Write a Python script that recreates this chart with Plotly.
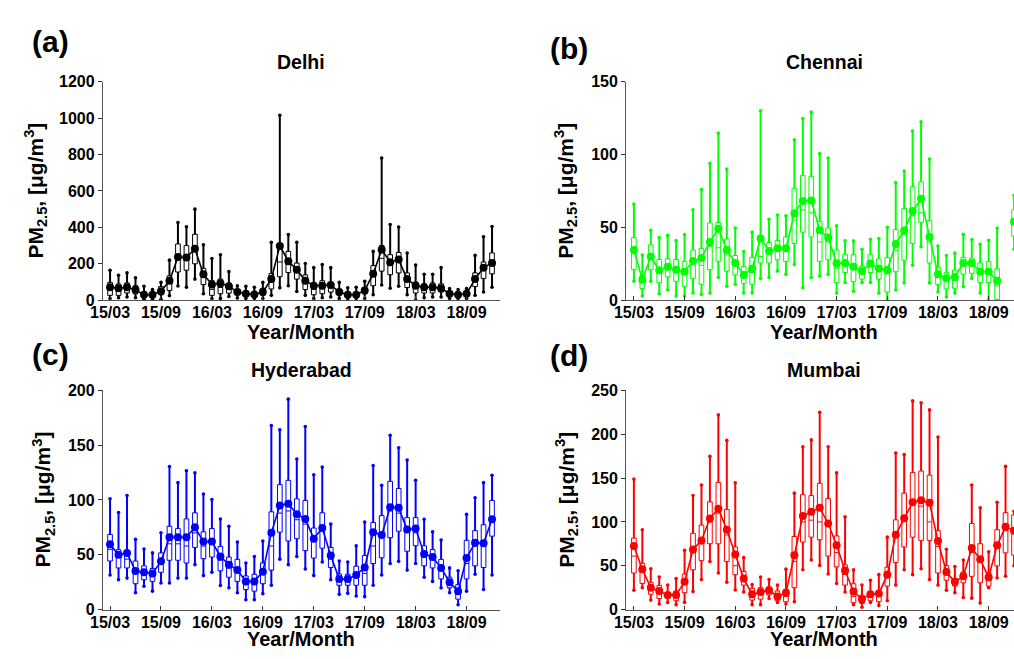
import plotly.graph_objects as go

W, H = 1014, 659
months = [f"{y:02d}/{m:02d}" for y in range(15, 19) for m in range(1, 13)][2:]  # 15/03 .. 18/12
idx = list(range(len(months)))
tick_vals = list(range(0, 46, 6))
tick_text = [months[i] for i in tick_vals]

# ---------------- Delhi ----------------
delhi_mean = [71,66,71,57,30,30,50,107,237,235,282,143,86,93,77,45,36,32,45,116,298,214,168,107,80,80,84,45,30,30,54,146,277,209,223,116,80,71,71,66,36,30,36,116,179,205]
delhi_high = [164,137,150,123,77,59,98,220,427,403,500,304,229,250,157,80,77,71,98,318,1015,361,318,202,179,196,179,98,68,71,104,268,780,416,402,259,193,143,143,179,64,59,64,246,348,405]
delhi_low = [9,14,18,14,5,5,5,25,78,71,116,36,9,9,21,12,10,10,10,27,68,80,48,27,9,14,18,10,8,10,10,30,84,66,77,30,0,14,18,18,10,10,10,27,45,71]
delhi_q3 = [98,89,95,80,40,40,75,134,309,300,362,175,107,116,93,60,45,40,65,146,286,268,204,139,93,107,98,60,40,40,70,190,300,250,262,150,100,90,95,90,45,40,45,150,210,260]
delhi_q1 = [27,27,40,35,20,20,30,54,155,165,200,86,27,36,39,30,25,22,28,62,129,152,116,59,30,36,45,28,20,22,35,80,160,140,150,70,40,40,40,45,25,22,25,75,120,145]
delhi_med = [55,55,60,50,28,28,45,95,230,225,270,130,60,70,65,42,34,30,42,100,210,210,160,95,60,65,70,42,28,30,50,135,230,190,210,105,65,62,65,62,33,30,33,110,165,200]

# ---------------- Chennai (18/11 missing) ----------------
chennai_mean = [34.5,14,30,20.5,23,21,19.6,27,29,40,49,34.5,25.6,17.4,21.6,42.3,33.8,35.6,35.6,59.6,68,68.5,48,43,25.4,25.6,22.9,20,25.2,21.8,20.7,38.5,47.9,61.2,69.7,43.4,17.8,15.1,16,25.6,25.6,19.6,19.6,13.4,None,53.9]
chennai_high = [66,31,48,43,44.5,41,45,62,76,94,114.6,90,49.6,33.4,46.7,130,55.6,58.5,58,110,124.6,129,100.6,97.5,51,40.7,40.7,35,41.8,42.3,50,80.8,88.6,116,122.4,96.8,37.2,30.7,32.3,45.2,41.6,38.3,41.2,49.6,None,72]
chennai_low = [13,3,13,4.5,7,3,3,5,4,5,15.6,9.6,11,5,5,15,15.6,20,17.8,24.5,8.5,15.6,16.7,17.8,4.9,12.2,6.2,12.2,12.2,4.9,0,7,11.8,24,36.7,11.8,5.6,2.2,4.9,9.3,14.9,4.9,0,0,None,35]
chennai_q3 = [43,17,38,28,28.5,28,26.7,34.5,35.6,53,53.4,42,30.7,23,29.4,44.5,39.6,41,43.4,76.8,85.7,85,53.9,49.6,34.5,31.6,31.2,23.4,31.2,28.3,29.4,48.5,63,77.9,81.2,54.5,22.7,18.9,20.7,29.4,28.9,25.6,26.7,21.6,None,62]
chennai_q1 = [21,8,21,12,16,13,9.6,15,11,21,26.7,20,17.4,11.6,11,25.6,25.6,27.8,26.7,39,46.7,43.4,26.7,27.8,12,19,12.9,14.5,19,14.5,5.6,19.6,27.4,39,53.4,25.6,10.7,7.8,8.2,17.8,18.5,12.2,12.2,0,None,44]
chennai_med = [32,13,28,19,22,20,18,25,24,37,36,31,24,16,19,30,32,34,35,55,62,60,40,40,22,24,22,19,24,20,18,34,45,58,60,40,16,13,14,24,24,18,18,10,None,52]

# ---------------- Hyderabad ----------------
hyd_mean = [59.7,50,51.7,35.2,34,33,44,66,66,66,75,62,62,48.4,41,36,25.7,25.7,34.6,70,95,96.6,87,82.7,64.7,74.4,49.3,27.8,27.8,31.6,38.4,70.6,68,93.4,92.8,73,73.9,50.8,47.9,38,25,16.8,47,61,60.6,82.4]
hyd_high = [101,88.6,104,64,55.2,51.7,70,130.6,115.8,126.7,124.7,105.5,100.4,82.7,76,61.7,42.5,48.4,62.6,168,164,192,137.4,167,123,130,78,44.3,43.4,58.2,79.8,131.5,113.4,159,147.7,136.5,118,82.4,70.9,63.5,38,35.4,86.9,102,115.8,122.6]
hyd_low = [31.6,27.2,28.7,15.4,21.3,16.8,24.2,24.2,28.7,28.7,41,31,34,21.9,19.8,15.4,8.9,8.9,14.5,22.2,46,41,48.4,37,31,43.4,27.2,13.9,14.8,12.4,11.8,22.2,31.6,42,44,36,42,29.5,25.7,19.8,15.4,4.4,16.8,32.2,18.3,31.6]
hyd_q3 = [68.5,54.7,53.8,44.3,39.9,37.5,51.7,76,73.9,82.7,88.3,70.9,73.9,57.6,47.9,45.8,30.7,32.2,42.5,89.2,114,117.9,101,99.6,74.4,88.3,56.7,32.5,32.2,39.6,49.3,79.5,85.7,117,110.5,83.9,83.9,58.2,54.7,45.8,29.5,22.7,63.2,72,77.4,99.6]
hyd_q1 = [44.3,38,38,23.6,27.2,25.7,34,45,45,42.5,56.7,46.4,47.9,35.4,29.5,25.7,18.3,16.8,23.6,36,70.6,62.6,64.7,53.8,47,56,38.4,22.2,22.2,22.2,22.2,42,47.3,65.6,71.5,53.2,58.2,39.9,38,28,19.8,9.5,28,39.9,38.4,67]
hyd_med = [55,48,46,33,33,31,42,60,60,58,70,58,60,45,38,34,24,24,33,58,88,90,82,78,62,72,46,27,27,30,33,58,68,90,88,72,70,48,46,36,25,15,42,58,58,82]

# ---------------- Mumbai ----------------
mum_mean = [72.5,46,25,21.2,16.7,16.7,31.6,68.5,78.9,103.8,115,91,62.9,35.3,17.5,20.1,22,14.9,19.3,62,106.8,111.6,116,98.2,73.3,44.6,20.5,11.9,17.5,18.2,39.8,85.2,104.2,122.4,124.6,121.7,78.1,42.8,31.6,37.9,70.3,57.3,36.8,73.3,94.5,90]
mum_high = [148.8,91,46.5,37.2,27.9,35.3,67.7,130,142,174.9,222,193,144.7,59.2,28.6,37.2,34.2,27.9,46.1,132.8,185.6,193.5,225,185.6,155.9,105.7,45.4,27.9,33.5,39.8,82.6,178.6,176.7,238,235.9,227.7,196.8,68.8,49.1,56.5,142,116,65.8,122.4,163.3,112]
mum_low = [22,25,10.8,6.3,8.2,5.6,8.2,20.5,34.2,54.7,41.7,31.2,22.3,20.1,5.6,5.6,12.6,8.2,6.3,8.9,45.4,56.5,50.2,40.5,29.8,20.1,5.6,2.6,8.2,4.5,10,27.9,45.4,39.8,46.5,34.2,27.9,22,19.3,13.8,13,7.4,25,36,38,50]
mum_q3 = [81.5,52.8,31.2,27.5,19.3,21.2,40.5,87,96.4,122.8,145,114.2,71.4,43.5,24.2,25,25.7,21.2,23,83.3,131,130,144,126.5,84,51,29.4,16.4,20.5,21.2,48.4,102.3,132.8,156.2,158,153.3,90,50.2,35.3,42.8,98.2,75.1,42.4,91.1,110.5,108]
mum_q1 = [41.7,29.8,17.5,12.6,13,10,19.3,45.4,55.8,75.1,75,54.7,39.8,27.9,10.8,11.9,16.7,10,8.9,25,77,82.6,79.6,61,48.7,27.9,7.8,7,10,8.9,26.8,53.6,71.4,82.6,78.9,78.9,41.7,33.5,26.8,30.5,37.9,30.5,26.8,49.8,64.7,62]
mum_med = [61,44,23,19,16,15,29,65,75,100,110,85,50,33,16,18,21,14,15,55,100,102,100,95,65,40,15,11,17,16,38,85,105,120,118,100,72,40,30,36,65,55,33,70,90,88]

panels = [
    dict(name="Delhi", tag="(a)", color="#000000", mean=delhi_mean, high=delhi_high, low=delhi_low,
         q1=delhi_q1, q3=delhi_q3, med=delhi_med, ymax=1200, ydtick=200),
    dict(name="Chennai", tag="(b)", color="#00FF00", mean=chennai_mean, high=chennai_high, low=chennai_low,
         q1=chennai_q1, q3=chennai_q3, med=chennai_med, ymax=150, ydtick=50),
    dict(name="Hyderabad", tag="(c)", color="#0000FF", mean=hyd_mean, high=hyd_high, low=hyd_low,
         q1=hyd_q1, q3=hyd_q3, med=hyd_med, ymax=200, ydtick=50),
    dict(name="Mumbai", tag="(d)", color="#FF0000", mean=mum_mean, high=mum_high, low=mum_low,
         q1=mum_q1, q3=mum_q3, med=mum_med, ymax=250, ydtick=50),
]

# pixel layout of each axes box: (left, right, top, bottom)
boxes = [(91, 493, 75.5, 300), (621, 1014, 75.5, 300), (91, 493, 392.5, 617.5), (621, 1014, 392.5, 617.5)]
xranges = [[-0.85, 45.9], [-0.93, 45.0], [-0.85, 45.9], [-0.93, 45.0]]
ytitle_x = [23, 560, 31, 561]
tag_pos = [(38, 34), (563, 42), (38, 356), (563, 357)]
title_y = [55, 55, 372, 372]
xlabel_y = [333, 333, 648, 648]
full_center = [292, 822, 292, 822]

FONT = "Liberation Sans, Arial, sans-serif"
fig = go.Figure()
annotations = []

def px_x(p):
    return p / W

def px_y(p):
    return 1 - p / H

for i, p in enumerate(panels):
    n = i + 1
    xa = "x" if n == 1 else f"x{n}"
    ya = "y" if n == 1 else f"y{n}"
    col = p["color"]
    valid = [k for k in idx if p["mean"][k] is not None]

    # whiskers (two segments per month, outside the box)
    wx, wy = [], []
    for k in valid:
        wx += [k, k, None, k, k, None]
        wy += [p["low"][k], p["q1"][k], None, p["q3"][k], p["high"][k], None]
    fig.add_trace(go.Scatter(x=wx, y=wy, mode="lines", line=dict(color=col, width=2),
                             xaxis=xa, yaxis=ya, showlegend=False, hoverinfo="skip"))
    # boxes
    fig.add_trace(go.Box(x=valid, q1=[p["q1"][k] for k in valid], median=[p["med"][k] for k in valid],
                         q3=[p["q3"][k] for k in valid], lowerfence=[p["q1"][k] for k in valid],
                         upperfence=[p["q3"][k] for k in valid], width=0.55, whiskerwidth=0,
                         fillcolor="white", line=dict(color=col, width=1), boxpoints=False,
                         xaxis=xa, yaxis=ya, showlegend=False))
    # whisker end dots
    fig.add_trace(go.Scatter(x=valid + valid, y=[p["low"][k] for k in valid] + [p["high"][k] for k in valid],
                             mode="markers", marker=dict(color=col, size=3.6),
                             xaxis=xa, yaxis=ya, showlegend=False, cliponaxis=True))
    # monthly means
    fig.add_trace(go.Scatter(x=idx, y=p["mean"], mode="lines+markers", connectgaps=False,
                             line=dict(color=col, width=1.6), marker=dict(color=col, size=8),
                             xaxis=xa, yaxis=ya, showlegend=False, cliponaxis=True))

    l, r, t, b = boxes[i]
    xkey = "xaxis" if n == 1 else f"xaxis{n}"
    ykey = "yaxis" if n == 1 else f"yaxis{n}"
    fig.layout[xkey] = dict(domain=[px_x(l), px_x(r)], anchor=ya, range=xranges[i],
                            tickvals=tick_vals, ticktext=tick_text, ticks="inside", ticklen=4,
                            tickcolor="#333", showline=True, linecolor="#555", linewidth=1,
                            showgrid=False, zeroline=False, ticklabelstandoff=-2,
                            tickfont=dict(family=FONT, size=16, color="black", weight="bold"))
    fig.layout[ykey] = dict(domain=[px_y(b), px_y(t)], anchor=xa, range=[0, p["ymax"]],
                            dtick=p["ydtick"], tick0=0, ticks="outside", ticklen=4, tickcolor="#333",
                            showline=True, linecolor="#555", linewidth=1, showgrid=False, zeroline=False,
                            tickfont=dict(family=FONT, size=16, color="black", weight="bold"))

    annotations.append(dict(text=p["tag"], x=px_x(tag_pos[i][0]), y=px_y(tag_pos[i][1]), xref="paper",
                            yref="paper", showarrow=False, xanchor="center", yanchor="middle",
                            font=dict(family=FONT, size=30, color="black", weight="bold")))
    annotations.append(dict(text=p["name"], x=px_x(full_center[i]), y=px_y(title_y[i]), xref="paper",
                            yref="paper", showarrow=False, xanchor="center", yanchor="middle",
                            font=dict(family=FONT, size=19.5, color="black", weight="bold")))
    annotations.append(dict(text="Year/Month", x=px_x(full_center[i]), y=px_y(xlabel_y[i]), xref="paper",
                            yref="paper", showarrow=False, xanchor="center", yanchor="middle",
                            font=dict(family=FONT, size=20, color="black", weight="bold")))
    annotations.append(dict(text="PM<sub>2.5</sub>, [μg/m<sup>3</sup>]", x=px_x(ytitle_x[i]),
                            y=px_y((t + b) / 2), xref="paper", yref="paper", showarrow=False,
                            textangle=-90, xanchor="center", yanchor="middle",
                            font=dict(family=FONT, size=21, color="black", weight="bold")))

fig.update_layout(width=W, height=H, margin=dict(l=0, r=0, t=0, b=0), paper_bgcolor="white",
                  plot_bgcolor="white", annotations=annotations, boxmode="overlay")
fig.write_html("out.html")
